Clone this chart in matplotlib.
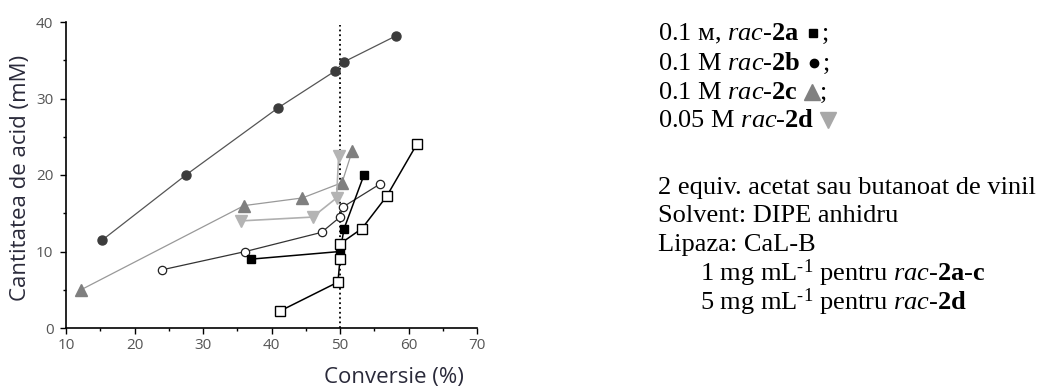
import matplotlib
matplotlib.use("Agg")
import matplotlib.pyplot as plt
from matplotlib.lines import Line2D

# ---- data ----
conv_2a = [37.0, 50.0, 50.6, 53.5]
acid_2a = [9.0, 10.0, 13.0, 20.0]

conv_2a_open = [41.2, 49.7, 50.0, 50.0, 53.2, 56.8, 61.2]
acid_2a_open = [2.2, 6.0, 9.0, 11.0, 13.0, 17.2, 24.0]

conv_2b = [15.3, 27.5, 41.0, 49.3, 50.6, 58.2]
acid_2b = [11.5, 20.0, 28.8, 33.6, 34.8, 38.2]

conv_2b_open = [24.0, 36.2, 47.3, 50.0, 50.4, 55.8]
acid_2b_open = [7.6, 10.0, 12.5, 14.5, 15.8, 18.8]

conv_2c = [12.2, 36.0, 44.5, 50.3, 51.8]
acid_2c = [5.0, 16.0, 17.0, 19.0, 23.2]

conv_2d = [35.5, 46.0, 49.5, 49.8]
acid_2d = [14.0, 14.5, 17.0, 22.5]

x_ticks = [10, 20, 30, 40, 50, 60, 70]
y_ticks = [0, 10, 20, 30, 40]
x_label = "Conversie (%)"
y_label = "Cantitatea de acid (mM)"

plt.rcParams['mathtext.fontset'] = 'custom'
plt.rcParams['mathtext.rm'] = 'Liberation Serif'
plt.rcParams['mathtext.it'] = 'Liberation Serif:italic'
plt.rcParams['mathtext.bf'] = 'Liberation Serif:bold'

fig = plt.figure(figsize=(10.42, 3.88), dpi=100)
ax = fig.add_axes([66/1042, 60/388, 411/1042, 306/388])

lw = 0.9
ax.plot(conv_2b, acid_2b, '-', color='#555555', lw=lw, marker='o', ms=6.5,
        mfc='#3c3c3c', mec='#3c3c3c', zorder=3)
ax.plot(conv_2c, acid_2c, '-', color='#999999', lw=lw, marker='^', ms=9,
        mfc='#7f7f7f', mec='#7f7f7f', zorder=3)
ax.plot(conv_2d, acid_2d, '-', color='#b0b0b0', lw=1.2, marker='v', ms=9,
        mfc='#b4b4b4', mec='#b4b4b4', zorder=3)
ax.plot(conv_2b_open, acid_2b_open, '-', color='#333333', lw=lw, marker='o', ms=6,
        mfc='white', mec='#222222', mew=0.9, zorder=4)
ax.plot(conv_2a, acid_2a, '-', color='black', lw=1.1, marker='s', ms=6,
        mfc='black', mec='black', zorder=5)
ax.plot(conv_2a_open, acid_2a_open, '-', color='black', lw=1.1, marker='s', ms=6.5,
        mfc='white', mec='black', mew=1.0, zorder=5)

ax.plot([50, 50], [0, 39.6], ':', color='black', lw=1.3, zorder=2)

ax.set_xlim(10, 70)
ax.set_ylim(0, 40)
ax.set_xticks(x_ticks)
ax.set_yticks(y_ticks)
ax.set_xticks([15, 25, 35, 45, 55, 65], minor=True)
ax.set_yticks([5, 15, 25, 35], minor=True)
for s in ['top', 'right']:
    ax.spines[s].set_visible(False)
for s in ['left', 'bottom']:
    ax.spines[s].set_linewidth(1.2)
ax.tick_params(which='major', direction='out', length=4, width=1.0,
               labelsize=11, labelcolor='#555555')
ax.tick_params(axis='x', which='major', pad=3)
ax.tick_params(axis='y', which='major', pad=5)
ax.tick_params(which='minor', direction='out', length=2.5, width=1.0)
for lab in ax.get_xticklabels() + ax.get_yticklabels():
    lab.set_family('Open Sans')

fig.text(394/1042, 1 - 377/388, x_label, ha='center', va='center',
         fontsize=16, family='Open Sans', color='#2a2a3a')
fig.text(21/1042, 1 - 178/388, y_label, ha='center', va='center',
         rotation=90, fontsize=16, family='Open Sans', color='#2a2a3a')

# ---- right-side text ----
serif = ['Liberation Serif', 'DejaVu Serif']
fs = 19
x0 = 658 / 1042
x1 = 700 / 1042
legend_lines = [
    ("0.1 м, $\\it{rac}$-$\\bf{2a}$", ('s', 'black', 6), ";"),
    ("0.1 M $\\it{rac}$-$\\bf{2b}$", ('o', 'black', 6), ";"),
    ("0.1 M $\\it{rac}$-$\\bf{2c}$", ('^', '#808080', 12), ";"),
    ("0.05 M $\\it{rac}$-$\\bf{2d}$", ('v', '#a8a8a8', 12), ""),
]
fig.canvas.draw()
renderer = fig.canvas.get_renderer()
y_px = [34, 64, 93, 121]
for (txt, mk, tail), yp in zip(legend_lines, y_px):
    y = 1 - yp / 388
    t = fig.text(x0, y, txt, ha='left', va='center', fontsize=fs, family=serif)
    bb = t.get_window_extent(renderer=renderer)
    mx = (bb.x1 + 14) / fig.bbox.width
    fig.add_artist(Line2D([mx], [y + 1/388], marker=mk[0], color=mk[1], ms=mk[2],
                          transform=fig.transFigure, ls='none'))
    if tail:
        fig.text(mx + 8/1042, y, tail, ha='left', va='center', fontsize=fs, family=serif)

cond_lines = [
    (x0, 188, "2 equiv. acetat sau butanoat de vinil"),
    (x0, 216, "Solvent: DIPE anhidru"),
    (x0, 245, "Lipaza: CaL-B"),
    (x1, 273, "1 mg mL$^{\\text{-1}}$ pentru $\\it{rac}$-$\\bf{2a}$-$\\bf{c}$"),
    (x1, 302, "5 mg mL$^{\\text{-1}}$ pentru $\\it{rac}$-$\\bf{2d}$"),
]
for xx, yp, txt in cond_lines:
    fig.text(xx, 1 - yp / 388, txt, ha='left', va='center', fontsize=fs, family=serif)

fig.savefig("out.png", dpi=100)
